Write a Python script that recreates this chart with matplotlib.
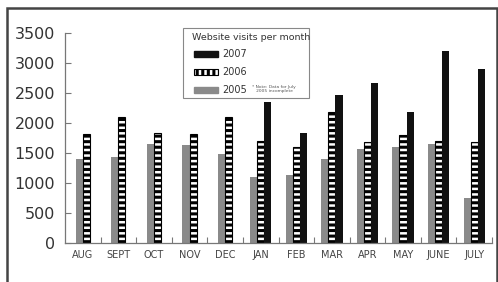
import numpy as np
import matplotlib
matplotlib.use("Agg")
import matplotlib.pyplot as plt
from matplotlib.patches import Rectangle

months = ["AUG", "SEPT", "OCT", "NOV", "DEC", "JAN", "FEB", "MAR", "APR", "MAY", "JUNE", "JULY"]
visits_2005 = [1400, 1440, 1650, 1630, 1480, 1100, 1140, 1400, 1570, 1600, 1650, 750]
visits_2006 = [1820, 2100, 1840, 1810, 2100, 1700, 1600, 2180, 1690, 1800, 1700, 1680]
visits_2007 = [None, None, None, None, None, 2350, 1830, 2470, 2670, 2180, 3200, 2900]
yticks = [0, 500, 1000, 1500, 2000, 2500, 3000, 3500]
series_labels = ["2007", "2006", "2005"]

plt.rcParams['hatch.linewidth'] = 2.2
plt.rcParams['font.family'] = ['DejaVu Sans']

W, H = 498, 282
fig = plt.figure(figsize=(W / 100, H / 100), dpi=100)
ax = fig.add_axes([65 / W, 1 - 243 / H, (492 - 65) / W, 210 / H])

bw = 0.2
gray = "#8a8a8a"
black = "#111111"
for i in range(len(months)):
    if visits_2007[i] is None:
        offs = [-0.1, 0.1]
    else:
        offs = [-0.2, 0.0, 0.2]
    ax.bar(i + offs[0], visits_2005[i], width=bw, color=gray, linewidth=0)
    ax.bar(i + offs[1], visits_2006[i], width=bw, facecolor="white",
           edgecolor="black", hatch="---", linewidth=0.8)
    if visits_2007[i] is not None:
        ax.bar(i + offs[2], visits_2007[i], width=bw, color=black, linewidth=0)

ax.set_xlim(-0.5, 11.5)
ax.set_ylim(0, 3500)
ax.set_yticks(yticks)
ax.set_yticklabels([str(v) for v in yticks], fontsize=11.5, color="#333333")
ax.tick_params(axis="y", direction="in", length=4, width=0.8, color="#777777", pad=7)

ax.set_xticks(np.arange(len(months)) + 0.5)
ax.set_xticklabels([])
ax.set_xticks(np.arange(len(months)), minor=True)
ax.set_xticklabels(months, minor=True, fontsize=7, color="#444444")
ax.tick_params(axis="x", which="major", direction="in", length=4, width=0.8, color="#777777")
ax.tick_params(axis="x", which="minor", length=0, pad=5)

for s in ["top", "right"]:
    ax.spines[s].set_visible(False)
for s in ["left", "bottom"]:
    ax.spines[s].set_color("#777777")
    ax.spines[s].set_linewidth(0.9)

# legend box drawn by hand (figure pixel layout)
def fx(px):
    return px / W

def fy(py):
    return 1 - py / H

fig.patches.append(Rectangle((fx(183), fy(98)), (309 - 183) / W, (98 - 28) / H,
                             transform=fig.transFigure, facecolor="white",
                             edgecolor="#888888", linewidth=0.8))
fig.text(fx(192), fy(37), "Website visits per month", fontsize=6.8,
         color="#333333", va="center", ha="left")
styles = [dict(facecolor=black, edgecolor=black),
          dict(facecolor="white", edgecolor="black", hatch="|||", linewidth=0.8),
          dict(facecolor=gray, edgecolor=gray)]
for k, (lab, st) in enumerate(zip(series_labels, styles)):
    yc = 54 + 18 * k
    fig.patches.append(Rectangle((fx(194), fy(yc + 3)), 24 / W, 6 / H,
                                 transform=fig.transFigure, **st))
    fig.text(fx(222), fy(yc), lab, fontsize=7, color="#333333",
             va="center", ha="left")

fig.text(fx(252), fy(89), "* Note: Data for July\n   2005 incomplete",
         fontsize=3.2, color="#555555", va="center", ha="left")

# outer frame
fig.patches.append(Rectangle((7 / W, -0.05), (497 - 7) / W, 1.05 - 8 / H,
                             transform=fig.transFigure, fill=False,
                             edgecolor="#444444", linewidth=1.8))

fig.savefig("out.png", dpi=100)
